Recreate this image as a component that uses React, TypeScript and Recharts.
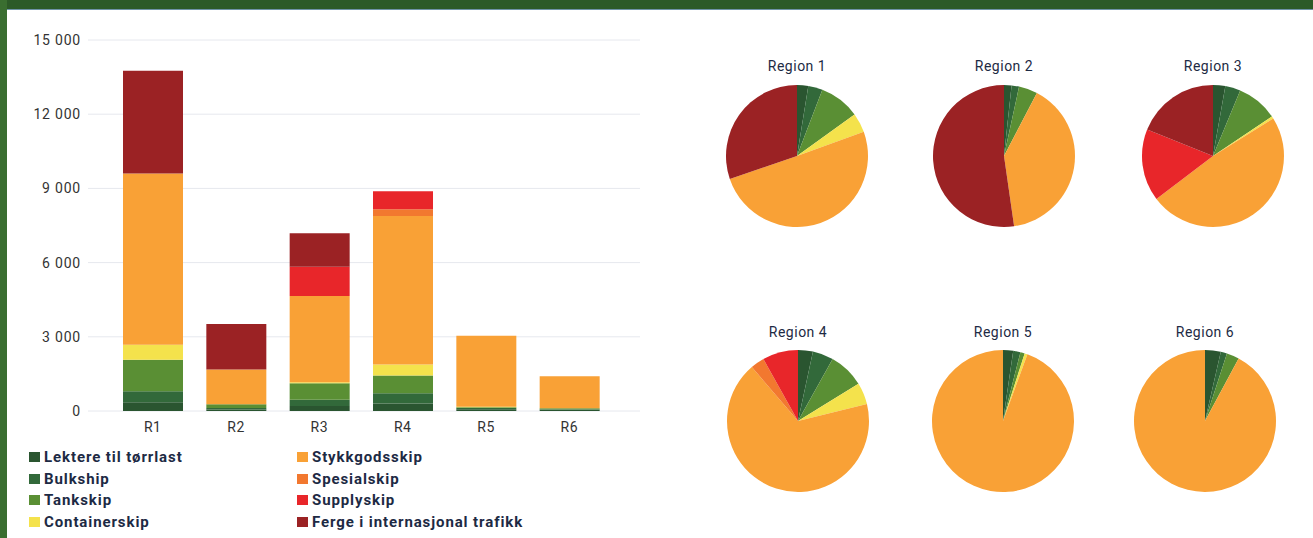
import React from 'react';
import { BarChart, Bar, XAxis, YAxis, CartesianGrid, PieChart, Pie, Cell } from 'recharts';

const regions = ['R1', 'R2', 'R3', 'R4', 'R5', 'R6'];
const regionTitles = ['Region 1', 'Region 2', 'Region 3', 'Region 4', 'Region 5', 'Region 6'];
const yTicks = [0, 3000, 6000, 9000, 12000, 15000];

const seriesNames = [
    'Lektere til tørrlast',
    'Bulkship',
    'Tankskip',
    'Containerskip',
    'Stykkgodsskip',
    'Spesialskip',
    'Supplyskip',
    'Ferge i internasjonal trafikk',
];
const seriesColors = ['#2a5530', '#32693a', '#5a8f34', '#f4e24c', '#f9a136', '#f2782f', '#e8262a', '#9b2224'];

// values per region R1..R6
const lektere = [350, 60, 200, 300, 70, 50];
const bulkship = [450, 60, 250, 420, 50, 20];
const tankskip = [1270, 150, 670, 720, 30, 40];
const containerskip = [610, 0, 40, 440, 20, 0];
const stykkgods = [6920, 1410, 3490, 6000, 2870, 1290];
const spesialskip = [0, 0, 0, 280, 0, 0];
const supplyskip = [0, 0, 1180, 720, 0, 0];
const ferge = [4160, 1840, 1360, 0, 0, 0];

const seriesValues = [lektere, bulkship, tankskip, containerskip, stykkgods, spesialskip, supplyskip, ferge];
const keys = ['s0', 's1', 's2', 's3', 's4', 's5', 's6', 's7'];

const barData = regions.map((r, i) => {
    const row: Record<string, any> = { region: r };
    keys.forEach((k, j) => { row[k] = seriesValues[j][i]; });
    return row;
});

const pieData = regions.map((_, i) => seriesNames.map((name, j) => ({ name, value: seriesValues[j][i], color: seriesColors[j] })));

// pie centres on the page
const pieSpots = [
    { x: 797, y: 156 }, { x: 1004, y: 156 }, { x: 1213, y: 156 },
    { x: 798, y: 421 }, { x: 1003, y: 421 }, { x: 1205, y: 421 },
];

const font = 'Roboto, "Noto Sans", sans-serif';
const textColor = '#1d2a44';

export default function App() {
    return (
        <div style={{ position: 'absolute', left: 0, top: 0, width: 1313, height: 538, background: '#fff', overflow: 'hidden', fontFamily: font }}>
            {/* frame */}
            <div style={{ position: 'absolute', left: 0, top: 0, width: 1313, height: 9, background: '#2c5a27', borderBottom: '1px solid #6f93a6' }} />
            <div style={{ position: 'absolute', left: 0, top: 0, width: 7, height: 538, background: '#3a6e30' }} />

            {/* stacked bars */}
            <div style={{ position: 'absolute', left: 0, top: 0 }}>
                <BarChart width={660} height={440} data={barData} margin={{ top: 40, right: 20, bottom: 4, left: 0 }}>
                    <CartesianGrid vertical={false} stroke="#e6e8ee" />
                    <XAxis
                        dataKey="region"
                        axisLine={false}
                        tickLine={false}
                        tickSize={0}
                        tickMargin={11}
                        height={25}
                        padding={{ left: 23, right: 29 }}
                        tick={{ fill: '#333', fontSize: 14, fontFamily: font, letterSpacing: 0.5 }}
                    />
                    <YAxis
                        domain={[0, 15000]}
                        ticks={yTicks}
                        width={88}
                        axisLine={false}
                        tickLine={false}
                        tickSize={0}
                        tickMargin={7}
                        tickFormatter={(v) => (v === 0 ? '0' : `${Math.floor(v / 1000)} ${String(v % 1000).padStart(3, '0')}`)}
                        tick={{ fill: '#333', fontSize: 14, fontFamily: font, letterSpacing: 0.8 }}
                    />
                    {keys.map((k, j) => (
                        <Bar key={k} dataKey={k} stackId="a" fill={seriesColors[j]} barSize={60} isAnimationActive={false} />
                    ))}
                </BarChart>
            </div>

            {/* legend */}
            {seriesNames.map((name, j) => {
                const col = Math.floor(j / 4);
                const row = j % 4;
                return (
                    <div key={name} style={{
                        position: 'absolute',
                        left: col === 0 ? 29 : 297,
                        top: 448 + row * 21.7,
                        height: 18,
                        display: 'flex',
                        alignItems: 'center',
                        fontSize: 15,
                        fontWeight: 700,
                        letterSpacing: 0.9,
                        color: textColor,
                        whiteSpace: 'nowrap',
                    }}>
                        <span style={{ display: 'inline-block', width: 11, height: 10, background: seriesColors[j], marginRight: 4 }} />
                        {name}
                    </div>
                );
            })}

            {/* pies */}
            {pieSpots.map((p, i) => (
                <div key={regionTitles[i]}>
                    <div style={{
                        position: 'absolute',
                        left: p.x - 60,
                        top: p.y - (i < 3 ? 98 : 97),
                        width: 120,
                        textAlign: 'center',
                        fontSize: 14,
                        letterSpacing: 0.5,
                        color: textColor,
                    }}>{regionTitles[i]}</div>
                    <div style={{ position: 'absolute', left: p.x - 80, top: p.y - 80 }}>
                        <PieChart width={160} height={160} margin={{ top: 0, right: 0, bottom: 0, left: 0 }}>
                            <Pie
                                data={pieData[i]}
                                dataKey="value"
                                cx={80}
                                cy={80}
                                outerRadius={71}
                                startAngle={90}
                                endAngle={-270}
                                stroke="none"
                                isAnimationActive={false}
                            >
                                {pieData[i].map((d) => (
                                    <Cell key={d.name} fill={d.color} />
                                ))}
                            </Pie>
                        </PieChart>
                    </div>
                </div>
            ))}
        </div>
    );
}
